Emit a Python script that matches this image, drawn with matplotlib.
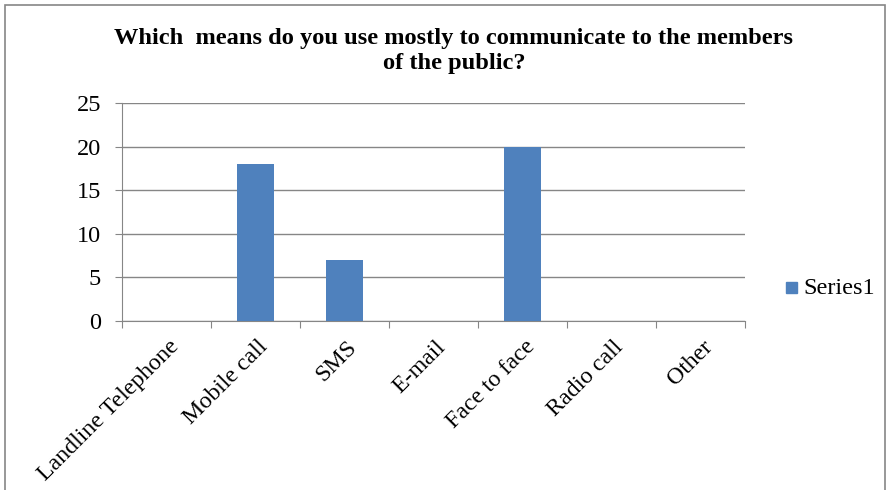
import matplotlib.pyplot as plt
from matplotlib.patches import Rectangle

categories = ["Landline Telephone", "Mobile call", "SMS", "E-mail",
              "Face to face", "Radio call", "Other"]
values = [0, 18, 7, 0, 20, 0, 0]
yticks = [0, 5, 10, 15, 20, 25]
title = "Which  means do you use mostly to communicate to the members\nof the public?"

plt.rcParams['font.family'] = ['Liberation Serif', 'DejaVu Serif']

fig = plt.figure(figsize=(8.9, 4.9), dpi=100)
ax = fig.add_axes([122 / 890, 1 - 321 / 490, (745 - 122) / 890, (321 - 103) / 490])

x = list(range(len(categories)))
bars = ax.bar(x, values, width=0.41, color="#4f81bd", label="Series1", zorder=3)

ax.set_xlim(-0.5, len(categories) - 0.5)
ax.set_ylim(0, 25)
ax.set_yticks(yticks)
ax.set_yticklabels([str(v) for v in yticks], fontsize=17.5)
ax.yaxis.grid(True, color="#868686", linewidth=1, zorder=0)
ax.tick_params(axis="y", length=5, color="#868686", pad=10)

ax.set_xticks([i - 0.5 for i in range(len(categories) + 1)], minor=False)
ax.set_xticklabels([])
ax.tick_params(axis="x", length=5, color="#868686", direction="out")
for i, lab in enumerate(categories):
    ax.annotate(lab, xy=(i, 0), xycoords=("data", "axes fraction"),
                xytext=(1, -11), textcoords="offset points",
                rotation=45, ha="right", va="top", rotation_mode="anchor",
                fontsize=17.2)

for s in ["top", "right"]:
    ax.spines[s].set_visible(False)
ax.spines["left"].set_color("#868686")
ax.spines["bottom"].set_color("#868686")

fig.text(454 / 890, 1 - 51 / 490, title, ha="center", va="center",
         fontsize=17.6, fontweight="bold", linespacing=1.25)

fig.patches.append(Rectangle((786 / 890, 1 - 293 / 490), 11 / 890, 11 / 490,
                             transform=fig.transFigure, color="#4f81bd"))
fig.text(803 / 890, 1 - 288 / 490, "Series1", ha="left", va="center", fontsize=17.5)

fig.patches.append(Rectangle((5 / 890, -0.05), 880 / 890, 1 - 5 / 490 + 0.05,
                             transform=fig.transFigure, fill=False,
                             edgecolor="#868686", linewidth=1.2))

fig.savefig("out.png", dpi=100)
